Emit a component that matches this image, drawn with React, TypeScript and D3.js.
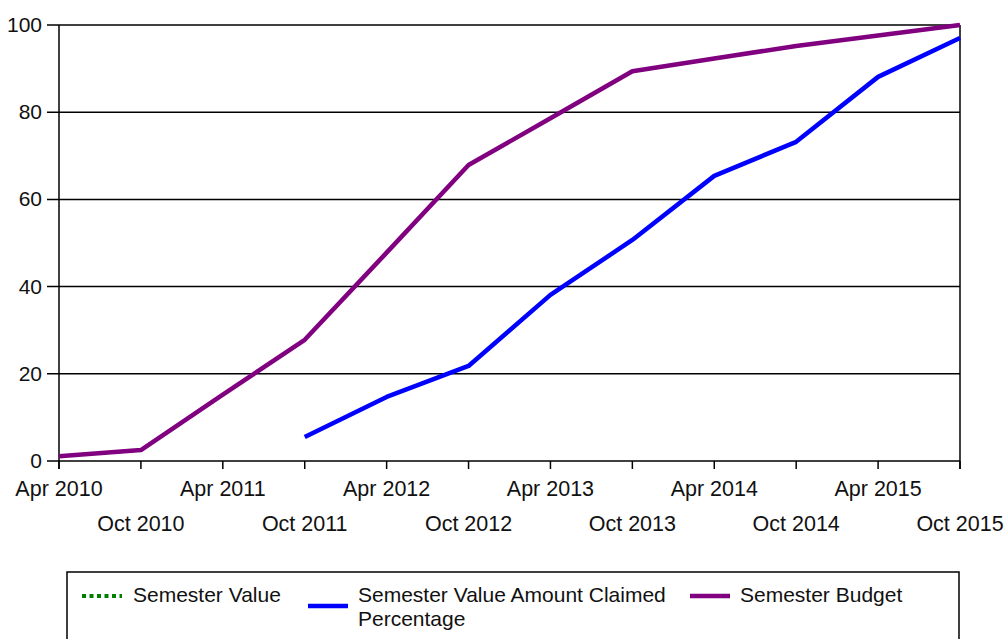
import React from 'react'
import * as d3 from 'd3'

// semesters on the x axis
const semesters = [
	'Apr 2010', 'Oct 2010', 'Apr 2011', 'Oct 2011', 'Apr 2012', 'Oct 2012',
	'Apr 2013', 'Oct 2013', 'Apr 2014', 'Oct 2014', 'Apr 2015', 'Oct 2015',
]
const yTicks = [0, 20, 40, 60, 80, 100]

// series values (percent)
const semesterValue: (number | null)[] = [null, null, null, null, null, null, null, null, null, null, null, null]
const amountClaimed: (number | null)[] = [null, null, null, 5.5, 14.7, 21.8, 38.1, 50.7, 65.4, 73.2, 88.1, 97.0]
const semesterBudget: (number | null)[] = [1.1, 2.5, 15.2, 27.8, 47.8, 67.9, 78.6, 89.4, 92.3, 95.2, 97.6, 100]

const W = 1006
const H = 639
const margin = { top: 25, right: 46, bottom: 178, left: 59 }
const font = 'Liberation Sans, Arial, sans-serif'

export default function App() {
	const x = d3.scalePoint<string>().domain(semesters).range([margin.left, W - margin.right])
	const y = d3.scaleLinear().domain([0, 100]).range([H - margin.bottom, margin.top])

	const line = d3
		.line<number | null>()
		.defined(d => d !== null)
		.x((_, i) => x(semesters[i]) as number)
		.y(d => y(d as number))

	const x0 = margin.left
	const x1 = W - margin.right
	const yb = y(0)

	return (
		<svg width={W} height={H} style={{ position: 'absolute', left: 0, top: 0, background: '#fff' }} fontFamily={font}>
			{/* grid + y ticks */}
			{yTicks.map(t => (
				<g key={t}>
					<line x1={x0 - 12} x2={x1} y1={y(t)} y2={y(t)} stroke="#000" strokeWidth={1.5} />
					<text x={42} y={y(t) + 7} textAnchor="end" fontSize={21} fill="#111">{t}</text>
				</g>
			))}
			{/* axis frame */}
			<line x1={x0} x2={x0} y1={margin.top} y2={yb + 8} stroke="#000" strokeWidth={1.5} />
			<line x1={x1} x2={x1} y1={margin.top} y2={yb + 8} stroke="#000" strokeWidth={1.5} />
			{semesters.map((s, i) => (
				<g key={s}>
					<line x1={x(s)} x2={x(s)} y1={yb} y2={yb + 8} stroke="#000" strokeWidth={1.5} />
					<text x={x(s)} y={i % 2 === 0 ? 496 : 531} textAnchor="middle" fontSize={21.5} fill="#111">{s}</text>
				</g>
			))}

			{/* series */}
			<path d={line(semesterValue) || ''} fill="none" stroke="#008000" strokeWidth={4} strokeDasharray="4,4" />
			<path d={line(amountClaimed) || ''} fill="none" stroke="#0000ff" strokeWidth={4.5} strokeLinejoin="round" />
			<path d={line(semesterBudget) || ''} fill="none" stroke="#800080" strokeWidth={4.5} strokeLinejoin="round" />

			{/* legend */}
			<rect x={67} y={572} width={892} height={80} fill="#fff" stroke="#000" strokeWidth={1.5} />
			<line x1={82} x2={122} y1={596} y2={596} stroke="#008000" strokeWidth={4} strokeDasharray="4,3.5" />
			<text x={133} y={602} fontSize={21} fill="#111">Semester Value</text>
			<line x1={308} x2={348} y1={606} y2={606} stroke="#0000ff" strokeWidth={4.5} />
			<text x={358} y={602} fontSize={21} fill="#111">Semester Value Amount Claimed</text>
			<text x={358} y={626} fontSize={21} fill="#111">Percentage</text>
			<line x1={690} x2={730} y1={596} y2={596} stroke="#800080" strokeWidth={4.5} />
			<text x={740} y={602} fontSize={21} fill="#111">Semester Budget</text>
		</svg>
	)
}
